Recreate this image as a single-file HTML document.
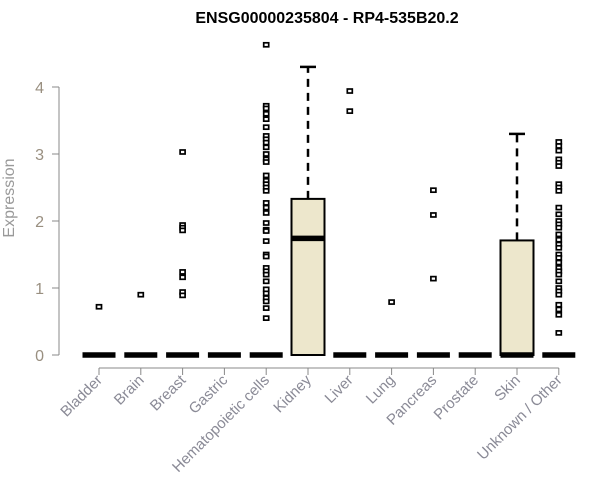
<!DOCTYPE html>
<html><head><meta charset="utf-8"><style>body{margin:0;background:#fff}svg{display:block;font-family:"Liberation Sans",sans-serif}</style></head>
<body>
<svg id="chart" width="600" height="500" viewBox="0 0 600 500">
<text x="327" y="23" text-anchor="middle" font-weight="bold" font-size="16">ENSG00000235804 - RP4-535B20.2</text>
<text transform="translate(14,198) rotate(-90)" text-anchor="middle" font-size="16" fill="#999">Expression</text>
<g id="axes"></g><g id="marks"></g>
</svg>
<script>
const categories=["Bladder","Brain","Breast","Gastric","Hematopoietic cells","Kidney","Liver","Lung","Pancreas","Prostate","Skin","Unknown / Other"];
const q1=[0,0,0,0,0,0,0,0,0,0,0,0];
const medians=[0,0,0,0,0,1.74,0,0,0,0,0,0];
const q3=[0,0,0,0,0,2.33,0,0,0,0,1.71,0];
const whiskerHi=[0,0,0,0,0,4.3,0,0,0,0,3.3,0];
const outliers=[[0.72],[0.9],[3.03,1.94,1.9,1.86,1.24,1.16,0.94,0.89],[],
[4.63,3.72,3.68,3.6,3.52,3.4,3.27,3.22,3.17,3.1,3.0,2.92,2.88,2.68,2.6,2.55,2.5,2.45,2.27,2.2,2.12,1.97,1.87,1.85,1.7,1.5,1.47,1.3,1.25,1.2,1.1,0.98,0.92,0.85,0.8,0.7,0.55],
[],[3.94,3.64],[0.79],[2.46,2.09,1.14],[],[],
[3.18,3.12,3.05,2.92,2.87,2.82,2.55,2.5,2.45,2.2,2.1,2.0,1.95,1.9,1.8,1.72,1.65,1.6,1.5,1.45,1.38,1.3,1.25,1.2,1.1,1.0,0.95,0.9,0.75,0.68,0.6,0.33]];
const yTicks=[0,1,2,3,4];
const NS="http://www.w3.org/2000/svg";
const y=v=>355-v*67;
const x=i=>99+i*41.8;
const axes=document.getElementById('axes'),marks=document.getElementById('marks');
function mk(p,tag,at){const e=document.createElementNS(NS,tag);for(const k in at)e.setAttribute(k,at[k]);p.appendChild(e);return e;}
let l=mk(axes,'line',{x1:59,x2:59,y1:y(4),y2:y(0),stroke:'#888'});


yTicks.forEach(t=>{
 const tk=mk(axes,'line',{x1:52,x2:59,y1:y(t),y2:y(t),stroke:'#888'});
 
 
 const tx=mk(axes,'text',{x:44,y:y(t)+6,'text-anchor':'end','font-size':16,fill:'#998f80'});tx.textContent=t;
 
 
});
l=mk(axes,'line',{x1:x(0),x2:x(categories.length-1),y1:368,y2:368,stroke:'#888'});


categories.forEach((c,i)=>{
 const tk=mk(axes,'line',{x1:x(i),x2:x(i),y1:368,y2:375,stroke:'#888'});
 
 
 const tx=mk(axes,'text',{transform:`translate(${x(i)+4},${381}) rotate(-45)`,'text-anchor':'end','font-size':15,fill:'#8a8a96'});tx.textContent=c;
 
 
 const g=mk(marks,'g',{});
 
 
 const cx=x(i),hw=16.5;
 if(whiskerHi[i]>q3[i]){
  mk(g,'line',{x1:cx,x2:cx,y1:y(q3[i]),y2:y(whiskerHi[i]),stroke:'#000','stroke-width':2.5,'stroke-dasharray':'8,6'});
  mk(g,'line',{x1:cx-8,x2:cx+8,y1:y(whiskerHi[i]),y2:y(whiskerHi[i]),stroke:'#000','stroke-width':2.5});
 }
 if(q3[i]>q1[i]) mk(g,'rect',{x:cx-hw,y:y(q3[i]),width:hw*2,height:y(q1[i])-y(q3[i]),fill:'#ede7cc',stroke:'#000','stroke-width':2});
 mk(g,'line',{x1:cx-hw,x2:cx+hw,y1:y(medians[i]),y2:y(medians[i]),stroke:'#000','stroke-width':5.5});
 outliers[i].forEach(v=>{
  const r=mk(g,'rect',{x:cx-2.5,y:y(v)-2,width:5,height:4,fill:'#fff',stroke:'#000','stroke-width':1.7});
  
  
 });
});
</script>
</body></html>
